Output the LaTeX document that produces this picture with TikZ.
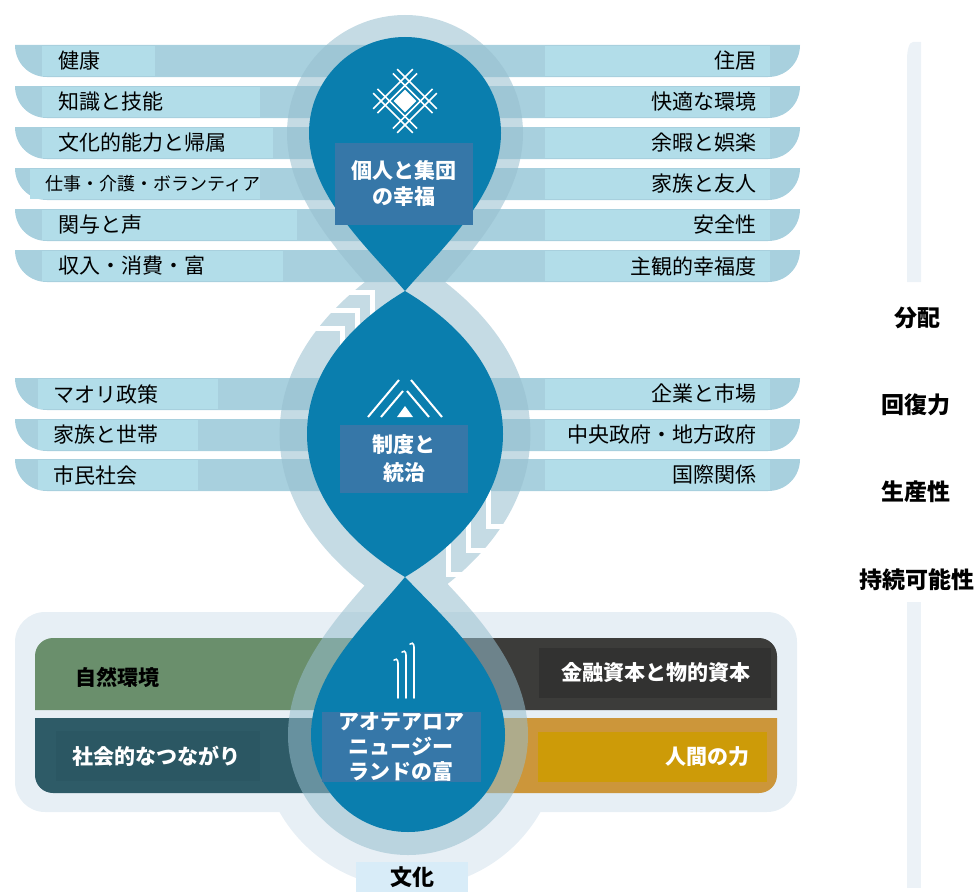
\documentclass[tikz,border=0pt]{standalone}
\usepackage{fontspec}
\setmainfont{Noto Sans CJK JP}
\usepackage{xcolor}
\usepackage{tikz}
\usetikzlibrary{positioning,calc}

\definecolor{dropblue}{RGB}{10,126,174}
\definecolor{haloblue}{RGB}{150,190,206}
\definecolor{stripeblue}{RGB}{168,208,222}
\definecolor{stripelight}{RGB}{178,221,233}
\definecolor{boxblue}{RGB}{54,119,168}
\definecolor{panel}{RGB}{231,239,245}
\definecolor{sidebar}{RGB}{236,242,247}
\definecolor{natgreen}{RGB}{106,143,108}
\definecolor{socteal}{RGB}{46,91,103}
\definecolor{socteal2}{RGB}{43,87,99}
\definecolor{fincoal}{RGB}{60,60,58}
\definecolor{fincoal2}{RGB}{50,50,49}
\definecolor{humgold}{RGB}{204,150,58}
\definecolor{humgold2}{RGB}{205,155,8}
\definecolor{culturebox}{RGB}{216,236,248}

\begin{document}
\begin{tikzpicture}[x=1pt, y=-1pt,
    stripe/.style={fill=stripeblue},
    item/.style={fill=stripelight, anchor=west, inner xsep=16pt, inner ysep=0pt, minimum height=30pt, align=left, font=\fontsize{21}{24}\selectfont},
    itemr/.style={fill=stripelight, anchor=east, inner xsep=13pt, inner ysep=0pt, minimum height=30pt, text width=199pt, align=right, font=\fontsize{21}{24}\selectfont},
    core/.style={fill=boxblue, text=white, align=center, inner sep=0pt, font=\fontsize{21}{26}\selectfont\bfseries},
    capital/.style={inner ysep=0pt, minimum height=50pt, font=\fontsize{21}{24}\selectfont\bfseries},
    pillar/.style={font=\fontsize{23}{26}\selectfont\bfseries},
    halo/.style={fill=haloblue, fill opacity=0.55},
    chev/.style={draw=white, line width=5pt},
    icon/.style={draw=white, line width=1.6pt}
]
    \useasboundingbox (0,0) rectangle (979,891);

    % Side bars (right)
    \fill[sidebar] (921,42) -- (913,42) .. controls (909,42) and (907,50) .. (907,60) -- (907,282) -- (921,282) -- cycle;
    \fill[sidebar] (907,602) rectangle (921,888);

    % Capital panel (bottom)
    \fill[panel, rounded corners=30pt] (15,612) rectangle (797,812);
    \fill[panel] (260,738) .. controls (260,820.8) and (327.2,888) .. (410,888) .. controls (492.8,888) and (560,820.8) .. (560,738) -- cycle;

    % Stripes, wellbeing domains
    \fill[stripe] (15,45) -- (800,45) .. controls (800,63) and (786,77) .. (768,77) -- (47,77) .. controls (29,77) and (15,63) .. (15,45) -- cycle;
    \fill[stripe] (15,86) -- (800,86) .. controls (800,104) and (786,118) .. (768,118) -- (47,118) .. controls (29,118) and (15,104) .. (15,86) -- cycle;
    \fill[stripe] (15,127) -- (800,127) .. controls (800,145) and (786,159) .. (768,159) -- (47,159) .. controls (29,159) and (15,145) .. (15,127) -- cycle;
    \fill[stripe] (15,168) -- (800,168) .. controls (800,186) and (786,200) .. (768,200) -- (47,200) .. controls (29,200) and (15,186) .. (15,168) -- cycle;
    \fill[stripe] (15,209) -- (800,209) .. controls (800,227) and (786,241) .. (768,241) -- (47,241) .. controls (29,241) and (15,227) .. (15,209) -- cycle;
    \fill[stripe] (15,250) -- (800,250) .. controls (800,268) and (786,282) .. (768,282) -- (47,282) .. controls (29,282) and (15,268) .. (15,250) -- cycle;

    % Stripes, institutions
    \fill[stripe] (15,378) -- (800,378) .. controls (800,396) and (786,410) .. (768,410) -- (47,410) .. controls (29,410) and (15,396) .. (15,378) -- cycle;
    \fill[stripe] (15,419) -- (800,419) .. controls (800,437) and (786,451) .. (768,451) -- (47,451) .. controls (29,451) and (15,437) .. (15,419) -- cycle;
    \fill[stripe] (15,459) -- (800,459) .. controls (800,477) and (786,491) .. (768,491) -- (47,491) .. controls (29,491) and (15,477) .. (15,459) -- cycle;

    % Wellbeing domains (left)
    \node[item, text width=81pt] (health) at (42,61) {健康};
    \node[item, text width=186pt] (knowledge) at (42,102) {知識と技能};
    \node[item, text width=199pt] (culture) at (42,143) {文化的能力と帰属};
    \node[item, inner xsep=15pt, text width=200pt, font=\fontsize{18}{22}\selectfont] (work) at (30,184) {仕事・介護・ボランティア};
    \node[item, text width=223pt] (engage) at (42,225) {関与と声};
    \node[item, text width=209pt] (income) at (42,266) {収入・消費・富};

    % Wellbeing domains (right)
    \node[itemr] (housing) at (770,61) {住居};
    \node[itemr] (environment) at (770,102) {快適な環境};
    \node[itemr] (leisure) at (770,143) {余暇と娯楽};
    \node[itemr] (family) at (770,184) {家族と友人};
    \node[itemr] (safety) at (770,225) {安全性};
    \node[itemr] (subjective) at (770,266) {主観的幸福度};

    % Institutions (left and right)
    \node[item, inner xsep=15pt, text width=150pt] (maori) at (38,394) {マオリ政策};
    \node[item, inner xsep=15pt, text width=130pt] (household) at (38,435) {家族と世帯};
    \node[item, inner xsep=15pt, text width=130pt] (civil) at (38,475) {市民社会};
    \node[itemr] (business) at (770,394) {企業と市場};
    \node[itemr] (government) at (770,435) {中央政府・地方政府};
    \node[itemr] (international) at (770,475) {国際関係};

    % Capital rows
    \fill[natgreen] (420,638) -- (53,638) .. controls (43,638) and (35,646) .. (35,656) -- (35,710) -- (420,710) -- cycle;
    \fill[socteal] (420,718) -- (35,718) -- (35,775) .. controls (35,785) and (43,793) .. (53,793) -- (420,793) -- cycle;
    \fill[fincoal] (395,638) -- (759,638) .. controls (769,638) and (777,646) .. (777,656) -- (777,710) -- (395,710) -- cycle;
    \fill[humgold] (395,718) -- (777,718) -- (777,775) .. controls (777,785) and (769,793) .. (759,793) -- (395,793) -- cycle;

    \node[capital, anchor=west] (natural) at (72,677) {自然環境};
    \node[capital, anchor=west, fill=socteal2, text=white, inner xsep=16pt, text width=172pt] (social) at (56,756) {社会的なつながり};
    \node[capital, anchor=east, fill=fincoal2, text=white, inner xsep=20pt, text width=192pt, align=right] (financial) at (771,673) {金融資本と物的資本};
    \node[capital, anchor=east, fill=humgold2, text=white, inner xsep=17pt, text width=195pt, align=right] (human) at (767,757) {人間の力};

    % Halo round the strands
    \fill[halo]
        (405,327) .. controls (450.5,274) and (523,209) .. (523,133) .. controls (523,68) and (470,15) .. (405,15)
            .. controls (340,15) and (287,68) .. (287,133) .. controls (287,209) and (359.5,274) .. (405,327) -- cycle
        (405,255) .. controls (322,304) and (279.6,366.5) .. (279.6,434) .. controls (279.6,501.5) and (322,564) .. (405,613)
            .. controls (488,564) and (530.4,501.5) .. (530.4,434) .. controls (530.4,366.5) and (488,304) .. (405,255) -- cycle
        (405,540) .. controls (358.5,595) and (288,657) .. (288,735) .. controls (288,801.3) and (341.7,855) .. (408,855)
            .. controls (474.3,855) and (528,801.3) .. (528,735) .. controls (528,657) and (457.5,595) .. (405,540) -- cycle;

    % Chevrons cut into the halo
    \draw[chev] (340,292) -- (372,292) -- (372,340);
    \draw[chev] (324,310) -- (357,310) -- (357,358);
    \draw[chev] (308,328) -- (342,328) -- (342,376);
    \draw[chev] (488,480) -- (488,526) -- (522,526);
    \draw[chev] (468,504) -- (468,550) -- (502,550);
    \draw[chev] (448,528) -- (448,574) -- (482,574);

    % Strands
    \fill[dropblue]
        (405,291) .. controls (368,248) and (309,195) .. (309,133) .. controls (309,80) and (352,37) .. (405,37)
            .. controls (458,37) and (501,80) .. (501,133) .. controls (501,195) and (442,248) .. (405,291) -- cycle
        (405,291) .. controls (340,330) and (307,380) .. (307,434) .. controls (307,488) and (340,538) .. (405,577)
            .. controls (470,538) and (503,488) .. (503,434) .. controls (503,380) and (470,330) .. (405,291) -- cycle
        (405,577) .. controls (368,622) and (311,672) .. (311,735) .. controls (311,788.6) and (354.4,832) .. (408,832)
            .. controls (461.6,832) and (505,788.6) .. (505,735) .. controls (505,672) and (448,622) .. (405,577) -- cycle;

    % Icons
    \begin{scope}[shift={(405,101)}, rotate=45]
        \draw[icon] (-17,-28) -- (-17,28);
        \draw[icon] (-11,-28) -- (-11,28);
        \draw[icon] (11,-28) -- (11,28);
        \draw[icon] (17,-28) -- (17,28);
        \draw[icon] (-28,-17) -- (28,-17);
        \draw[icon] (-28,-11) -- (28,-11);
        \draw[icon] (-28,11) -- (28,11);
        \draw[icon] (-28,17) -- (28,17);
        \fill[white] (-8,-8) rectangle (8,8);
    \end{scope}

    \draw[icon, line width=2pt] (368,417) -- (399,380);
    \draw[icon, line width=2pt] (381,417) -- (403,391);
    \draw[icon, line width=2pt] (411,380) -- (442,417);
    \draw[icon, line width=2pt] (407,391) -- (429,417);
    \fill[white] (397,417) -- (405,406) -- (413,417) -- cycle;

    \draw[icon, line cap=round] (398,698) -- (398,663) .. controls (398,659) and (395,658) .. (394,660);
    \draw[icon, line cap=round] (406,698) -- (406,655) .. controls (406,651) and (403,650) .. (402,652);
    \draw[icon, line cap=round] (414,698) -- (414,647) .. controls (414,643) and (411,642) .. (410,644);

    % Core labels
    \node[core, minimum width=138pt, minimum height=82pt] (wellbeing) at (404,184) {個人と集団\\の幸福};
    \node[core, minimum width=128pt, minimum height=68pt, font=\fontsize{21}{28}\selectfont\bfseries] (institutions) at (404,459) {制度と\\統治};
    \node[core, minimum width=159pt, minimum height=70pt, font=\fontsize{21}{25}\selectfont\bfseries] (wealth) at (401,747) {アオテアロア\\ニュージー\\ランドの富};

    % Pillars (right)
    \node[pillar] (distribution) at (917,318) {分配};
    \node[pillar] (resilience) at (916,405) {回復力};
    \node[pillar] (productivity) at (916,492) {生産性};
    \node[pillar] (sustainability) at (917,580) {持続可能性};

    % Culture
    \node[fill=culturebox, minimum width=112pt, minimum height=30pt, inner sep=0pt, font=\fontsize{22}{24}\selectfont\bfseries] (culturelabel) at (412,877) {文化};

\end{tikzpicture}
\end{document}
